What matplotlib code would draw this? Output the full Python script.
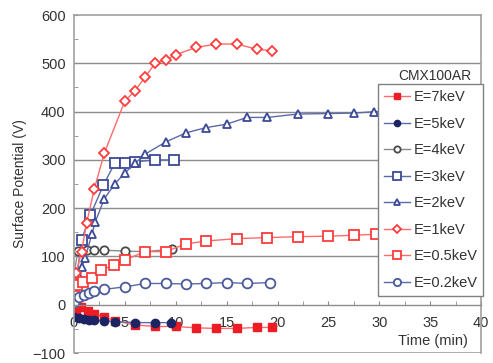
import matplotlib
matplotlib.use('Agg')
from matplotlib import pyplot as plt

plt.rcParams['font.family'] = ['Liberation Sans', 'DejaVu Sans']

# E=7keV
t_7 = [0.2, 0.7, 1.4, 2, 3, 4, 6, 8, 10, 12, 14, 16, 18, 19.5]
v_7 = [-15, -5, -12, -20, -25, -33, -42, -45, -45, -48, -49, -49, -47, -47]
# E=5keV
t_5 = [0, 0.5, 1, 1.5, 2, 3, 4, 6, 8, 9.5]
v_5 = [-25, -28, -30, -32, -32, -33, -35, -37, -37, -37]
# E=4keV
t_4 = [0, 0.4, 1.25, 2, 3, 5, 7, 9.6]
v_4 = [65, 112, 113, 113, 113, 111, 110, 115]
# E=3keV
t_3 = [0, 0.75, 1.6, 2.9, 4, 5, 6, 8, 9.8]
v_3 = [10, 135, 185, 248, 293, 294, 296, 300, 300]
# E=2keV
t_2 = [0, 0.5, 0.75, 1.1, 1.75, 2.1, 3, 4, 5, 6, 7, 9, 11, 13, 15, 17, 19, 22, 25, 27.5, 29.5, 33]
v_2 = [5, 60, 78, 96, 146, 172, 220, 250, 273, 293, 312, 337, 356, 367, 374, 388, 388, 395, 396, 397, 400, 402]
# E=1keV
t_1 = [0, 0.2, 0.75, 1.25, 2, 3, 5, 6, 7, 8, 9, 10, 12, 14, 16, 18, 19.5]
v_1 = [15, 65, 110, 170, 240, 315, 422, 443, 472, 501, 507, 518, 533, 540, 540, 529, 526]
# E=0.5keV
t_05 = [0, 0.3, 0.9, 1.8, 2.7, 3.9, 5, 7, 9, 11, 13, 16, 19, 22, 25, 27.5, 29.7, 33]
v_05 = [18, 40, 48, 56, 72, 82, 93, 110, 110, 126, 132, 137, 139, 141, 142, 144, 146, 147]
# E=0.2keV
t_02 = [0, 0.5, 1, 1.5, 2, 3, 5, 7, 9, 11, 13, 15, 17, 19.3]
v_02 = [5, 15, 20, 24, 28, 32, 37, 44, 44, 43, 44, 46, 44, 46]

fig = plt.figure(figsize=(4.93, 3.63), dpi=100)
ax = fig.add_axes([0.150, 0.0275, 0.826, 0.931])

for y in [100, 200, 300, 400, 500]:
    ax.axhline(y, color='#8c8c8c', linewidth=1.0, zorder=0)
ax.axhline(-100, color='#a0a0a0', linewidth=1.2, zorder=0)

ms = 6
ax.plot(t_7, v_7, color='#ff6b6b', lw=1, marker='s', ms=ms, mfc='#ee1c25', mec='#ee1c25', label='E=7keV')
ax.plot(t_5, v_5, color='#5a6aa8', lw=1, marker='o', ms=ms, mfc='#1c2463', mec='#1c2463', label='E=5keV')
ax.plot(t_4, v_4, color='#8a8a8a', lw=1, marker='o', ms=ms, mfc='white', mec='#4a4a4a', mew=1.3, label='E=4keV')
ax.plot(t_3, v_3, color='#5a6aa8', lw=1, marker='s', ms=ms + 1, mfc='white', mec='#3c4a96', mew=1.3, label='E=3keV')
ax.plot(t_2, v_2, color='#5a6aa8', lw=1, marker='^', ms=ms, mfc='white', mec='#3c4a96', mew=1.3, label='E=2keV')
ax.plot(t_1, v_1, color='#ff6b6b', lw=1, marker='D', ms=ms - 1, mfc='white', mec='#ff3b3b', mew=1.3, label='E=1keV')
ax.plot(t_05, v_05, color='#ff6b6b', lw=1, marker='s', ms=ms + 1, mfc='white', mec='#ff3b3b', mew=1.3, label='E=0.5keV')
ax.plot(t_02, v_02, color='#5a6aa8', lw=1, marker='o', ms=ms + 1, mfc='white', mec='#4a5a9a', mew=1.3, label='E=0.2keV')

ax.set_xlim(0, 40)
ax.set_ylim(-100, 600)
ax.set_xticks(range(0, 41, 5))
ax.set_xticks([x + 2.5 for x in range(0, 40, 5)], minor=True)
ax.set_yticks(range(-100, 601, 100))
ax.set_yticks(range(-50, 600, 100), minor=True)

for s in ['top', 'right', 'left']:
    ax.spines[s].set_color('#a0a0a0')
    ax.spines[s].set_linewidth(1.2)
ax.spines['bottom'].set_position(('data', 0))
ax.spines['bottom'].set_color('#8c8c8c')
ax.spines['bottom'].set_linewidth(1.0)

ax.tick_params(axis='x', which='both', direction='in', length=3, color='#8c8c8c',
               labelsize=10.5, labelcolor='#333333', pad=8)
ax.tick_params(axis='y', which='both', direction='in', length=3, color='#8c8c8c',
               labelsize=10.5, labelcolor='#333333', pad=6)

ax.set_ylabel('Surface Potential (V)', fontsize=10, color='#333333', labelpad=4)
ax.text(38.7, -75, 'Time (min)', fontsize=10.5, color='#333333', ha='right', va='center')

ax.text(0.975, 0.80, 'CMX100AR', transform=ax.transAxes, fontsize=10, color='#333333',
        ha='right', va='bottom')

leg = ax.legend(loc='upper right', bbox_to_anchor=(1.005, 0.795), fontsize=10.5,
                frameon=True, fancybox=False, framealpha=1, edgecolor='#808080',
                handlelength=1.8, handletextpad=0.2, labelspacing=0.86,
                borderpad=0.4, borderaxespad=0, markerscale=0.75)
leg.get_frame().set_linewidth(1.0)
for txt in leg.get_texts():
    txt.set_color('#333333')

plt.savefig('out.png', dpi=100)
